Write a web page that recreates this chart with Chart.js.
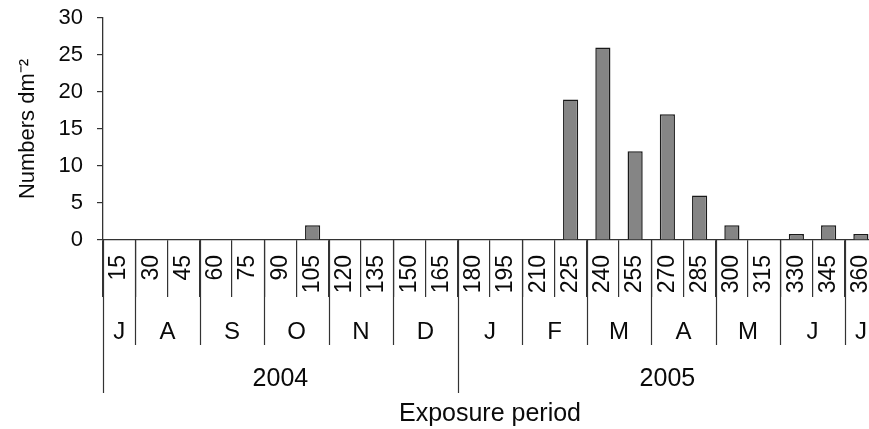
<!DOCTYPE html>
<html>
<head>
<meta charset="utf-8">
<script src="https://cdn.jsdelivr.net/npm/chart.js@4"></script>
<style>
html,body{margin:0;padding:0;overflow:hidden;background:#fff;}
#wrap{width:877px;height:429px;position:relative;}
</style>
</head>
<body>
<div id="wrap"><canvas id="c"></canvas></div>
<script>
// ---- data ----
const categories = ['15','30','45','60','75','90','105','120','135','150','165','180','195','210','225','240','255','270','285','300','315','330','345','360'];
const values = [0,0,0,0,0,0,2,0,0,0,0,0,0,0,19,26,12,17,6,2,0,0.8,2,0.8];
const months = ['J','A','S','O','N','D','J','F','M','A','M','J','J'];
const monthSpans = [1,2,2,2,2,2,2,2,2,2,2,2,1];
const years = ['2004','2005'];
const yearSpans = [11,13];
const yTicks = [0,5,10,15,20,25,30];

const FONT = "'Liberation Sans', Arial, sans-serif";
const TXT = '#0a0a0a';
const LINE = '#333333';

const groupRows = {
  id: 'groupRows',
  afterDraw(chart) {
    const x = chart.scales.x;
    const ctx = chart.ctx;
    const base = chart.chartArea.bottom;
    const bx = b => x.getPixelForValue(b - 0.5);
    ctx.save();
    ctx.strokeStyle = LINE;
    ctx.lineWidth = 1.2;
    const monthBounds = [0];
    let acc = 0;
    monthSpans.forEach(s => { acc += s; monthBounds.push(acc); });
    const yearBounds = [0];
    acc = 0;
    yearSpans.forEach(s => { acc += s; yearBounds.push(acc); });
    monthBounds.forEach(b => {
      if (yearBounds.includes(b)) return;
      const px = Math.round(bx(b)) + 0.5;
      ctx.beginPath(); ctx.moveTo(px, base); ctx.lineTo(px, base + 105); ctx.stroke();
    });
    yearBounds.forEach(b => {
      const px = Math.round(bx(b)) + 0.5;
      ctx.beginPath(); ctx.moveTo(px, base); ctx.lineTo(px, base + 153); ctx.stroke();
    });
    ctx.fillStyle = TXT;
    ctx.textAlign = 'center';
    ctx.textBaseline = 'middle';
    ctx.font = '24px ' + FONT;
    months.forEach((m, i) => {
      const cx = (bx(monthBounds[i]) + bx(monthBounds[i + 1])) / 2;
      ctx.fillText(m, cx, base + 92);
    });
    ctx.font = '25px ' + FONT;
    years.forEach((y, i) => {
      const cx = (bx(yearBounds[i]) + bx(yearBounds[i + 1])) / 2;
      ctx.fillText(y, cx, base + 139);
    });
    ctx.restore();
  }
};

new Chart(document.getElementById('c'), {
  type: 'bar',
  data: {
    labels: categories,
    datasets: [{
      data: values,
      backgroundColor: '#858585',
      borderColor: '#1a1a1a',
      borderWidth: 1.5,
      barPercentage: 0.47,
      categoryPercentage: 1.0
    }]
  },
  options: {
    responsive: true,
    maintainAspectRatio: false,
    animation: false,
    layout: { padding: { top: 18, right: 0, bottom: 0, left: 0 } },
    plugins: { legend: { display: false }, tooltip: { enabled: false } },
    scales: {
      x: {
        offset: true,
        grid: { display: true, drawOnChartArea: false, offset: true, drawTicks: true, tickLength: 57, color: LINE, lineWidth: 1.2 },
        border: { display: true, color: LINE, width: 1.3 },
        ticks: { autoSkip: false, minRotation: 90, maxRotation: 90, padding: -42, color: TXT, font: { family: FONT, size: 23 } },
        title: { display: true, text: 'Exposure period', color: TXT, font: { family: FONT, size: 25 }, padding: { top: 0, bottom: 0 } },
        afterFit(scale) { scale.height = 189; scale.paddingLeft = 0; scale.paddingRight = 0; }
      },
      y: {
        min: 0,
        max: 30,
        afterBuildTicks(scale) { scale.ticks = yTicks.map(v => ({ value: v })); },
        grid: { display: true, drawOnChartArea: false, drawTicks: true, tickLength: 6, color: LINE, lineWidth: 1.2 },
        border: { display: true, color: LINE, width: 1.3 },
        ticks: { padding: 14, color: TXT, font: { family: FONT, size: 22 } },
        title: { display: true, text: 'Numbers dm\u207B\u00B2', color: TXT, font: { family: FONT, size: 22 }, padding: { top: 15, bottom: 0 } },
        afterFit(scale) { scale.width = 103; scale.paddingTop = 0; scale.paddingBottom = 0; }
      }
    }
  },
  plugins: [groupRows]
});
</script>
</body>
</html>
